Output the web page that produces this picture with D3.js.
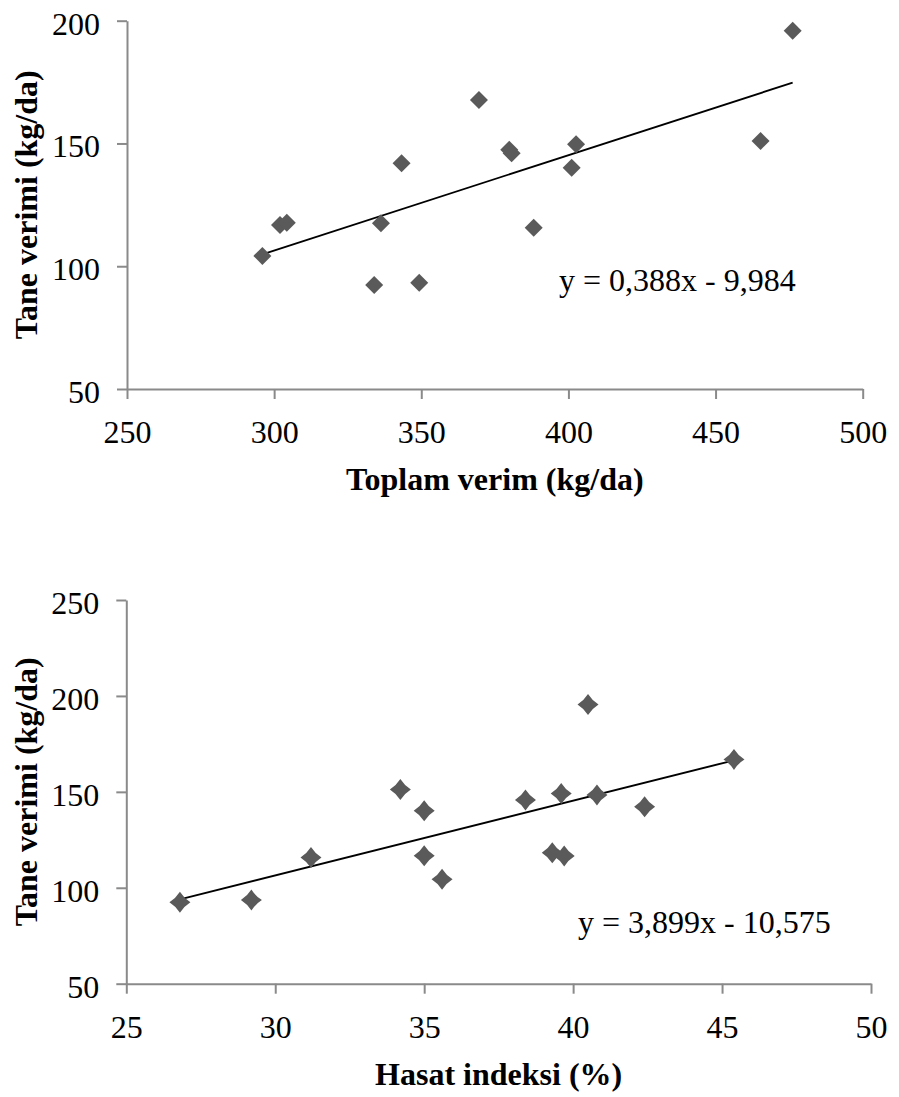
<!DOCTYPE html>
<html>
<head>
<meta charset="utf-8">
<script src="https://cdn.jsdelivr.net/npm/d3@7"></script>
<style>
  html, body { margin: 0; padding: 0; background: #fff; }
  svg { display: block; }
  text { font-family: "Liberation Serif", "Times New Roman", serif; fill: #000; }
</style>
</head>
<body>
<svg id="chart" width="899" height="1097"></svg>
<script>
// ---- Data ----
// Chart 1: Toplam verim vs Tane verimi
const topX = [296.0, 302.0, 304.3, 334.0, 336.3, 343.3, 349.3, 369.6, 379.9, 380.7, 388.2, 401.1, 402.6, 465.3, 476.2];
const topY = [104.2, 116.8, 117.7, 92.4, 117.5, 141.9, 93.3, 167.7, 147.4, 146.0, 115.7, 140.1, 149.7, 151.0, 195.9];
const topXTicks = [250, 300, 350, 400, 450, 500];
const topYTicks = [50, 100, 150, 200];
const topTrend = [0.388, -9.984];
const topEquation = "y = 0,388x - 9,984";
const topXTitle = "Toplam verim (kg/da)";

// Chart 2: Hasat indeksi vs Tane verimi
const botX = [26.8, 29.2, 31.2, 34.2, 35.0, 35.0, 35.6, 38.4, 39.3, 39.6, 39.7, 40.5, 40.8, 42.4, 45.4];
const botY = [92.4, 93.6, 115.8, 151.2, 140.1, 116.7, 104.5, 145.7, 118.2, 149.2, 116.5, 195.5, 148.3, 142.2, 166.9];
const botXTicks = [25, 30, 35, 40, 45, 50];
const botYTicks = [50, 100, 150, 200, 250];
const botTrend = [3.899, -10.575];
const botEquation = "y = 3,899x - 10,575";
const botXTitle = "Hasat indeksi (%)";

const yTitle = "Tane verimi  (kg/da)";

// ---- Drawing ----
const svg = d3.select("#chart");
svg.append("rect").attr("width", 899).attr("height", 1097).attr("fill", "#fff");

const AXIS_COLOR = "#8a8a8a";
const MARK_COLOR = "#5a5a5a";

function diamondPath(r, c) {
  // c: concavity (0 = straight edges)
  const k = r / 2 - c;
  return `M0,${-r}Q${k},${-k} ${r},0Q${k},${k} 0,${r}Q${-k},${k} ${-r},0Q${-k},${-k} 0,${-r}Z`;
}

function drawPanel(cfg) {
  const x = d3.scaleLinear().domain(cfg.xDomain).range(cfg.xRange);
  const y = d3.scaleLinear().domain(cfg.yDomain).range(cfg.yRange);
  const g = svg.append("g");

  // X axis
  const xa = g.append("g")
    .attr("transform", `translate(0,${cfg.yRange[0]})`)
    .call(d3.axisBottom(x).tickValues(cfg.xTicks).tickSize(10).tickSizeOuter(0).tickFormat(d3.format("d")));
  // Y axis
  const ya = g.append("g")
    .attr("transform", `translate(${cfg.xRange[0]},0)`)
    .call(d3.axisLeft(y).tickValues(cfg.yTicks).tickSize(10).tickSizeOuter(0).tickFormat(d3.format("d")));

  [xa, ya].forEach(a => {
    a.select(".domain").attr("stroke", AXIS_COLOR).attr("stroke-width", 2);
    a.selectAll(".tick line").attr("stroke", AXIS_COLOR).attr("stroke-width", 2);
    a.selectAll(".tick text").attr("font-size", 32)
      .attr("font-family", "Liberation Serif, Times New Roman, serif").attr("fill", "#000");
  });
  xa.selectAll(".tick text").attr("y", 54).attr("dy", 0);
  ya.selectAll(".tick text").attr("x", -27).attr("dy", 13.3);

  // Trend line
  const xs = cfg.xs;
  const x0 = d3.min(xs), x1 = d3.max(xs);
  const f = v => cfg.trend[0] * v + cfg.trend[1];
  g.append("line")
    .attr("x1", x(x0)).attr("y1", y(f(x0)))
    .attr("x2", x(x1)).attr("y2", y(f(x1)))
    .attr("stroke", "#000").attr("stroke-width", 1.9);

  // Diamond markers
  g.selectAll("path.pt")
    .data(xs.map((v, i) => [v, cfg.ys[i]]))
    .join("path")
    .attr("class", "pt")
    .attr("transform", d => `translate(${x(d[0])},${y(d[1])})`)
    .attr("d", diamondPath(cfg.markerR, cfg.concave))
    .attr("fill", MARK_COLOR);

  // Equation
  g.append("text")
    .attr("x", cfg.eqPos[0]).attr("y", cfg.eqPos[1])
    .attr("font-size", 32)
    .text(cfg.equation);

  // X title
  g.append("text")
    .attr("x", (cfg.xRange[0] + cfg.xRange[1]) / 2)
    .attr("y", cfg.yRange[0] + 101)
    .attr("text-anchor", "middle")
    .attr("font-size", 32).attr("font-weight", "bold")
    .text(cfg.xTitle);

  // Y title
  const cy = (cfg.yRange[0] + cfg.yRange[1]) / 2;
  g.append("text")
    .attr("transform", `translate(36.7,${cy}) rotate(-90)`)
    .attr("text-anchor", "middle")
    .attr("font-size", 32).attr("font-weight", "bold")
    .text(yTitle);
}

drawPanel({
  xDomain: [250, 500], yDomain: [50, 200],
  xRange: [127, 862.7], yRange: [389, 20.7],
  xTicks: topXTicks, yTicks: topYTicks,
  xs: topX, ys: topY, trend: topTrend,
  equation: topEquation, eqPos: [559, 291],
  xTitle: topXTitle, markerR: 9, concave: 0
});

drawPanel({
  xDomain: [25, 50], yDomain: [50, 250],
  xRange: [126.3, 871], yRange: [983.7, 600],
  xTicks: botXTicks, yTicks: botYTicks,
  xs: botX, ys: botY, trend: botTrend,
  equation: botEquation, eqPos: [578, 932.7],
  xTitle: botXTitle, markerR: 10.5, concave: 1.2
});
</script>
</body>
</html>
